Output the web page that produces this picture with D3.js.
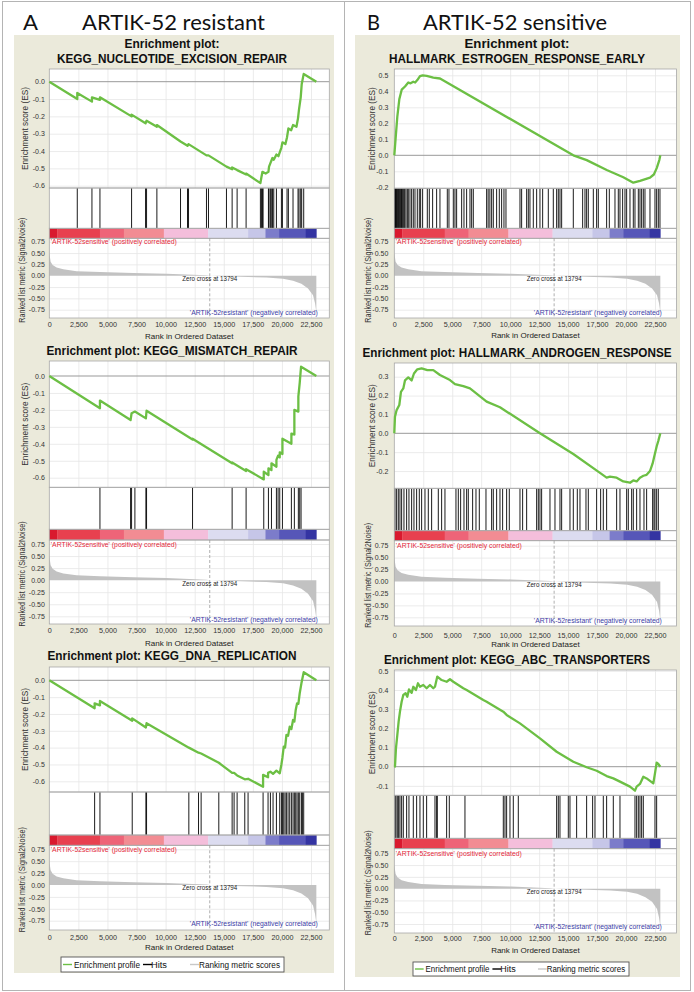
<!DOCTYPE html>
<html>
<head>
<meta charset="utf-8">
<script src="https://cdn.jsdelivr.net/npm/d3@7"></script>
<style>
  body { margin: 0; background: #fff; }
  svg text { font-family: "Liberation Sans", Arial, sans-serif; }
</style>
</head>
<body>
<div id="chart"></div>
<script>
// ---- shared axis data ----
const rankTicks = [0, 2500, 5000, 7500, 10000, 12500, 15000, 17500, 20000, 22500];
const rankTickLabels = ["0", "2,500", "5,000", "7,500", "10,000", "12,500", "15,000", "17,500", "20,000", "22,500"];
const zeroCross = 13794;
const lastRank = 22960;
const metricTicks = [0.75, 0.5, 0.25, 0, -0.25, -0.5, -0.75];
const esTicksResistant = [0, -0.1, -0.2, -0.3, -0.4, -0.5, -0.6];
const esTicksEstrogen = [0.5, 0.4, 0.3, 0.2, 0.1, 0, -0.1, -0.2];
const esTicksAndrogen = [0.3, 0.2, 0.1, 0, -0.1, -0.2];
const esTicksAbc = [0.5, 0.4, 0.3, 0.2, 0.1, 0, -0.1];

// ranked list metric (Signal2Noise), same list in every plot
const metricRanks  = [0, 115, 286, 630, 1202, 2348, 4352, 7215, 10078, 13513, 13794, 15798, 18666, 20098, 20957, 21673, 22245, 22675, 22847, 22933, 22960];
const metricValues = [0.5, 0.31, 0.235, 0.18, 0.14, 0.10, 0.08, 0.06, 0.044, 0.01, 0, -0.02, -0.04, -0.066, -0.11, -0.18, -0.28, -0.43, -0.61, -0.76, -0.8];

// colour bar blocks under the hits
const barBreaks = [0, 687, 4352, 6413, 9849, 13657, 17092, 18581, 19755, 22045, 22960];
const barColors = ["#d9192e", "#e8404f", "#ee6478", "#f28c93", "#f4bedb", "#dcdcf0", "#c6c6e8", "#7c7cca", "#5656b8", "#3434a2"];

// ---- running enrichment scores [rank, ES] and hit ranks ----
const nerProfile = [[0,0],[2405,-0.10],[2405,-0.065],[3667,-0.115],[3667,-0.09],[4354,-0.105],[4354,-0.09],[7074,-0.20],[7074,-0.19],
  [8276,-0.24],[8362,-0.225],[9250,-0.26],[9250,-0.25],[11282,-0.345],[11883,-0.37],[11970,-0.36],[13514,-0.425],[13685,-0.425],
  [15232,-0.49],[15719,-0.505],[15719,-0.495],[16148,-0.51],[16920,-0.535],[16920,-0.53],[18150,-0.585],[18240,-0.55],[18325,-0.52],
  [18600,-0.53],[18840,-0.52],[18893,-0.49],[19010,-0.47],[19184,-0.44],[19300,-0.45],[19527,-0.42],[19700,-0.43],[19956,-0.38],
  [20043,-0.35],[20300,-0.36],[20440,-0.32],[20556,-0.27],[20800,-0.28],[20955,-0.25],[21250,-0.26],[21385,-0.21],[21470,-0.16],
  [21616,-0.09],[21700,-0.015],[21873,0.045],[22960,0]];
const nerHits = [2405,3667,4354,7074,8276,8362,9250,11282,11883,11970,13514,13685,15232,15719,16148,16920,18150,18240,18325,18380,
  18840,18893,19010,19125,19184,19298,19527,19956,20043,20440,20556,20955,21385,21470,21616,21700,21873];

const mmrProfile = [[0,0],[4354,-0.19],[4354,-0.145],[6989,-0.26],[7074,-0.22],[7360,-0.21],[8305,-0.25],[8362,-0.205],[12315,-0.375],
  [12315,-0.37],[15719,-0.515],[15719,-0.51],[16920,-0.56],[16920,-0.55],[18438,-0.61],[18438,-0.565],[18840,-0.585],[18840,-0.545],
  [19100,-0.555],[19100,-0.515],[19527,-0.535],[19527,-0.495],[19670,-0.47],[19813,-0.48],[19813,-0.45],[20043,-0.46],[20043,-0.37],
  [20814,-0.40],[20814,-0.34],[21070,-0.345],[21070,-0.20],[21413,-0.21],[21413,-0.12],[21530,-0.04],[21645,0.055],[22960,0]];
const mmrHits = [4354,6989,7074,7360,8305,8362,12315,15719,16920,18438,18840,19100,19527,19670,19813,20043,20814,21070,21413,21530,21645];

const dnaProfile = [[0,0],[3897,-0.166],[3897,-0.137],[4354,-0.149],[4354,-0.123],[7130,-0.24],[7130,-0.226],[8305,-0.28],[8362,-0.255],
  [11997,-0.40],[12830,-0.43],[13054,-0.435],[14574,-0.49],[15719,-0.55],[15888,-0.55],[16148,-0.565],[16806,-0.588],[17090,-0.585],
  [18380,-0.632],[18380,-0.562],[18808,-0.576],[18808,-0.55],[19010,-0.543],[19237,-0.556],[19527,-0.537],[19813,-0.553],[19956,-0.50],
  [20043,-0.46],[20156,-0.394],[20270,-0.40],[20385,-0.325],[20527,-0.33],[20670,-0.275],[20814,-0.29],[20955,-0.236],[21070,-0.245],
  [21186,-0.176],[21299,-0.137],[21413,-0.14],[21530,-0.077],[21676,-0.018],[21873,0.048],[22960,0]];
const dnaHits = [3897,4354,7130,8305,8362,11997,12830,13054,14574,15719,15888,16148,16806,17090,18380,18808,19010,19237,19527,19813,
  19956,20043,20156,20270,20385,20527,20670,20814,20955,21070,21186,21299,21413,21530,21676,21762,21873];

const estrogenProfile = [[0,0],[147,0.137],[259,0.24],[432,0.35],[639,0.41],[924,0.43],[1208,0.455],[1400,0.45],[1640,0.46],[1800,0.455],
  [1985,0.47],[2218,0.495],[2451,0.50],[2796,0.497],[3366,0.485],[3944,0.48],[15450,0.0],[16606,-0.03],[18332,-0.092],[19765,-0.137],
  [20628,-0.171],[21207,-0.16],[22070,-0.14],[22400,-0.12],[22648,-0.08],[22873,-0.03],[22960,0.0]];
const estrogenHits = [20,60,110,150,200,260,320,380,430,500,560,620,690,760,830,900,1007,1122,1208,1352,1496,1640,1784,1985,2158,2273,
  2445,2848,3021,3309,3654,3941,4574,4718,5092,5236,5380,5812,6013,6243,6531,6675,6818,7969,8100,8250,8400,8545,8832,9063,9264,9465,
  9638,10846,10990,11422,11566,11709,11997,12285,12572,12803,13292,13723,14011,14155,14299,14443,15449,16255,16456,16600,16744,17176,
  17463,17607,18326,18557,19046,19333,19477,19707,19909,20053,20340,20628,20772,21060,21203,21347,21491,21635,22067,22498,22642,22786,22930];

const androgenProfile = [[0,0],[58,0.088],[201,0.123],[432,0.15],[575,0.22],[777,0.238],[921,0.28],[1208,0.296],[1496,0.28],[1697,0.317],
  [1985,0.339],[2359,0.344],[2848,0.335],[3366,0.335],[3941,0.309],[4805,0.282],[5236,0.261],[5955,0.25],[6531,0.238],[7969,0.168],
  [9120,0.138],[12572,0.0],[15449,-0.11],[17751,-0.21],[18326,-0.235],[18614,-0.23],[19190,-0.235],[19765,-0.255],[20340,-0.262],
  [20628,-0.25],[20916,-0.255],[21203,-0.235],[21500,-0.225],[21778,-0.22],[22067,-0.2],[22296,-0.16],[22411,-0.13],[22642,-0.07],
  [22786,-0.04],[22960,0]];
const androgenHits = [58,201,345,489,633,834,1064,1266,1496,1697,1928,2158,2359,2647,2935,3222,3798,4085,4373,5322,5524,5725,6013,6243,
  6387,6761,7049,7336,7912,8401,8545,8832,9120,9350,9695,9926,10846,11076,11422,12285,12429,12572,12716,13436,13867,14299,14443,15162,
  15449,15794,16025,16543,16744,17463,17808,18039,18326,19190,19477,20053,20196,20484,20628,20916,21203,21548,21778,22296,22411,22498,
  22642,22786];

const abcProfile = [[0,0],[58,0.0],[144,0.096],[259,0.165],[374,0.235],[489,0.287],[633,0.339],[777,0.374],[978,0.383],[1122,0.365],
  [1266,0.403],[1496,0.385],[1640,0.417],[1870,0.40],[2043,0.435],[2215,0.417],[2503,0.426],[2791,0.409],[3078,0.426],[3366,0.409],
  [3510,0.417],[3711,0.47],[4085,0.452],[4517,0.443],[4805,0.456],[5092,0.443],[5955,0.409],[6243,0.40],[7682,0.348],[7969,0.339],
  [9408,0.287],[9695,0.27],[10846,0.226],[12572,0.148],[14011,0.078],[15449,0.026],[16600,-0.003],[17463,-0.021],[18326,-0.049],
  [18902,-0.061],[19477,-0.078],[20340,-0.104],[20772,-0.125],[20916,-0.104],[21203,-0.09],[21491,-0.052],[21779,-0.061],[22354,-0.087],
  [22498,-0.035],[22642,0.021],[22786,0.014],[22960,0]];
const abcHits = [58,144,259,374,489,633,777,1064,1266,1640,1928,2215,2503,2791,3510,3654,3711,4517,4747,6099,9408,9552,9695,9983,10271,
  10702,14011,14155,14299,15018,15162,15737,16600,17118,17319,18039,18326,18902,19477,20772,20916,21060,21203,21347,21491,22498,22642];

// ---- layout ----
const leftCol = {cx: 172, x0: 49.3, x22500: 311, right: 329.3, labelX: 25, metricLabelX: 22, tickPad: 4.5};
const rightCol = {cx: 517, x0: 394.3, x22500: 655, right: 676.5, labelX: 372, metricLabelX: 368, tickPad: 6};

const panels = [
  Object.assign({}, leftCol, {title: ["Enrichment plot:", "KEGG_NUCLEOTIDE_EXCISION_REPAIR"], titleY: [47.7, 63], titleW: [95, 230],
    profile: nerProfile, hits: nerHits, esTicks: esTicksResistant,
    esTop: 69, esBottom: 188, hitsBottom: 228.3, barBottom: 238.3, metricBottom: 318,
    esRef: [[0, 81.7], [-0.6, 185.7]], m75: 241.7, mN75: 309.7, tickY: 324.3, axisTitleY: 336}),
  Object.assign({}, leftCol, {title: ["Enrichment plot: KEGG_MISMATCH_REPAIR"], titleY: [354.7], titleW: [251],
    profile: mmrProfile, hits: mmrHits, esTicks: esTicksResistant,
    esTop: 361, esBottom: 487.3, hitsBottom: 529.3, barBottom: 540, metricBottom: 624,
    esRef: [[0, 376], [-0.6, 477.7]], m75: 544, mN75: 616.3, tickY: 630, axisTitleY: 643}),
  Object.assign({}, leftCol, {title: ["Enrichment plot: KEGG_DNA_REPLICATION"], titleY: [660.3], titleW: [249],
    profile: dnaProfile, hits: dnaHits, esTicks: esTicksResistant,
    esTop: 667, esBottom: 792, hitsBottom: 835, barBottom: 845.3, metricBottom: 930,
    esRef: [[0, 680.3], [-0.6, 781.3]], m75: 849.3, mN75: 920.7, tickY: 937.3, axisTitleY: 947.3,
    legend: {x: 61, y: 957, w: 223, h: 15}}),
  Object.assign({}, rightCol, {title: ["Enrichment plot:", "HALLMARK_ESTROGEN_RESPONSE_EARLY"], titleY: [48.3, 63.3], titleW: [105, 256],
    profile: estrogenProfile, hits: estrogenHits, esTicks: esTicksEstrogen,
    esTop: 69, esBottom: 188.3, hitsBottom: 228.3, barBottom: 238.3, metricBottom: 318,
    esRef: [[0.5, 75.3], [0, 155.3]], m75: 241.7, mN75: 309.7, tickY: 324.3, axisTitleY: 335.5}),
  Object.assign({}, rightCol, {title: ["Enrichment plot: HALLMARK_ANDROGEN_RESPONSE"], titleY: [357], titleW: [309],
    profile: androgenProfile, hits: androgenHits, esTicks: esTicksAndrogen,
    esTop: 363, esBottom: 488.3, hitsBottom: 530.7, barBottom: 540.7, metricBottom: 626,
    esRef: [[0.3, 376.7], [0, 433.3]], m75: 545.7, mN75: 617.3, tickY: 635, axisTitleY: 644.5}),
  Object.assign({}, rightCol, {title: ["Enrichment plot: KEGG_ABC_TRANSPORTERS"], titleY: [664], titleW: [266],
    profile: abcProfile, hits: abcHits, esTicks: esTicksAbc,
    esTop: 670, esBottom: 795.3, hitsBottom: 838.3, barBottom: 848.7, metricBottom: 933,
    esRef: [[0.4, 690], [0, 766.7]], m75: 853.3, mN75: 924, tickY: 938.3, axisTitleY: 950.7,
    legend: {x: 413, y: 962, w: 216, h: 14}})
];

const beige = "#ebeadb";
const gridColor = "#e6e6e6";
const esGreen = "#6cbf44";

const svg = d3.select("#chart").append("svg")
    .attr("width", 694)
    .attr("height", 992);

// column frames and beige backgrounds
svg.append("rect").attr("x", 2.5).attr("y", 1.5).attr("width", 342).attr("height", 989)
    .attr("fill", "none").attr("stroke", "#b4b4b4");
svg.append("rect").attr("x", 344.5).attr("y", 1.5).attr("width", 346).attr("height", 989)
    .attr("fill", "none").attr("stroke", "#b4b4b4");
svg.append("rect").attr("x", 14).attr("y", 35).attr("width", 320).attr("height", 938).attr("fill", beige);
svg.append("rect").attr("x", 355).attr("y", 35).attr("width", 325).attr("height", 942).attr("fill", beige);

// column headers
const headers = [
  {t: "A", x: 23, w: 15}, {t: "ARTIK-52 resistant", x: 82, w: 183},
  {t: "B", x: 367, w: 13}, {t: "ARTIK-52 sensitive", x: 423, w: 184}
];
svg.selectAll("text.header").data(headers).join("text")
    .attr("class", "header")
    .attr("x", d => d.x)
    .attr("y", 29.5)
    .attr("textLength", d => d.w)
    .attr("lengthAdjust", "spacingAndGlyphs")
    .style("font-family", "Lato, 'Open Sans', sans-serif")
    .attr("font-size", 21)
    .attr("fill", "#111")
    .text(d => d.t);

panels.forEach(drawPanel);

function drawPanel(p) {
  const g = svg.append("g");
  const x = d3.scaleLinear().domain([0, 22500]).range([p.x0, p.x22500]);
  const y = d3.scaleLinear().domain([p.esRef[0][0], p.esRef[1][0]]).range([p.esRef[0][1], p.esRef[1][1]]);
  const ym = d3.scaleLinear().domain([0.75, -0.75]).range([p.m75, p.mN75]);
  const left = p.x0, w = p.right - p.x0;

  // title
  p.title.forEach((t, i) => {
    g.append("text")
        .attr("x", p.cx).attr("y", p.titleY[i])
        .attr("text-anchor", "middle")
        .attr("font-weight", "bold")
        .attr("font-size", 12)
        .attr("textLength", p.titleW[i])
        .attr("lengthAdjust", "spacingAndGlyphs")
        .attr("fill", "#111")
        .text(t);
  });

  // white plotting area
  g.append("rect").attr("x", left).attr("y", p.esTop)
      .attr("width", w).attr("height", p.metricBottom - p.esTop).attr("fill", "#fff");

  // grid lines through axes
  const gridX = g => g.call(s => s.select(".domain").remove())
      .call(s => s.selectAll("line").attr("stroke", gridColor).attr("stroke-width", 0.8));
  g.append("g").attr("transform", "translate(0," + p.esBottom + ")")
      .call(d3.axisBottom(x).tickValues(rankTicks.slice(1)).tickSize(-(p.esBottom - p.esTop)).tickFormat(""))
      .call(gridX);
  g.append("g").attr("transform", "translate(0," + p.metricBottom + ")")
      .call(d3.axisBottom(x).tickValues(rankTicks.slice(1)).tickSize(-(p.metricBottom - p.barBottom)).tickFormat(""))
      .call(gridX);
  g.append("g").attr("transform", "translate(" + left + ",0)")
      .call(d3.axisLeft(y).tickValues(p.esTicks.filter(v => v !== 0)).tickSize(-w).tickFormat(""))
      .call(gridX);
  g.append("g").attr("transform", "translate(" + left + ",0)")
      .call(d3.axisLeft(ym).tickValues(metricTicks.filter(v => v !== 0)).tickSize(-w).tickFormat(""))
      .call(gridX);

  // ranked list metric
  const metric = metricRanks.map((r, i) => [r, metricValues[i]]);
  g.append("path")
      .datum(metric)
      .attr("fill", "#c2c2c2")
      .attr("d", d3.area().x(d => x(d[0])).y0(ym(0)).y1(d => ym(d[1])));

  // zero line in ES plot
  g.append("line").attr("x1", left).attr("x2", p.right)
      .attr("y1", y(0)).attr("y2", y(0)).attr("stroke", "#999").attr("stroke-width", 1);

  // hits
  g.append("g").selectAll("line").data(p.hits).join("line")
      .attr("x1", d => x(d)).attr("x2", d => x(d))
      .attr("y1", p.esBottom).attr("y2", p.hitsBottom)
      .attr("stroke", "#000").attr("stroke-width", 0.9);

  // colour bar
  g.append("g").selectAll("rect").data(barColors).join("rect")
      .attr("x", (d, i) => x(barBreaks[i]))
      .attr("width", (d, i) => x(barBreaks[i + 1]) - x(barBreaks[i]) + 0.3)
      .attr("y", p.hitsBottom).attr("height", p.barBottom - p.hitsBottom)
      .attr("fill", d => d);

  // frames
  [[p.esTop, p.esBottom], [p.esBottom, p.hitsBottom], [p.hitsBottom, p.barBottom], [p.barBottom, p.metricBottom]]
    .forEach(r => {
      g.append("rect").attr("x", left).attr("y", r[0]).attr("width", w).attr("height", r[1] - r[0])
          .attr("fill", "none").attr("stroke", "#a8a8a8").attr("stroke-width", 0.8);
    });

  // zero cross marker
  g.append("line").attr("x1", x(zeroCross)).attr("x2", x(zeroCross))
      .attr("y1", p.barBottom).attr("y2", p.metricBottom)
      .attr("stroke", "#9a9a9a").attr("stroke-dasharray", "3,2").attr("stroke-width", 0.8);
  g.append("text").attr("x", x(zeroCross)).attr("y", ym(-0.06))
      .attr("text-anchor", "middle").attr("dominant-baseline", "central")
      .attr("font-size", 6.5).attr("textLength", 55).attr("lengthAdjust", "spacingAndGlyphs")
      .attr("fill", "#222").text("Zero cross at 13794");
  g.append("text").attr("x", left + 1.5).attr("y", p.m75)
      .attr("dominant-baseline", "central")
      .attr("font-size", 7).attr("textLength", 126).attr("lengthAdjust", "spacingAndGlyphs")
      .attr("fill", "#e4283a").text("'ARTIK-52sensitive' (positively correlated)");
  g.append("text").attr("x", x(lastRank) + 1.5).attr("y", ym(-0.81))
      .attr("text-anchor", "end").attr("dominant-baseline", "central")
      .attr("font-size", 7).attr("textLength", 128).attr("lengthAdjust", "spacingAndGlyphs")
      .attr("fill", "#3c3ca6").text("'ARTIK-52resistant' (negatively correlated)");

  // enrichment profile
  g.append("path")
      .datum(p.profile)
      .attr("fill", "none")
      .attr("stroke", esGreen)
      .attr("stroke-width", 2.3)
      .attr("stroke-linejoin", "round")
      .attr("d", d3.line().x(d => x(d[0])).y(d => y(d[1])));

  // tick labels
  const styleTicks = s => s.call(a => a.select(".domain").remove())
      .attr("font-family", null).attr("font-size", null)
      .call(a => a.selectAll("text").attr("font-size", 7).attr("fill", "#333"));
  g.append("g").attr("transform", "translate(" + left + ",0)")
      .call(d3.axisLeft(y).tickValues(p.esTicks).tickSize(0).tickPadding(p.tickPad).tickFormat(d => d.toFixed(1)))
      .call(styleTicks);
  g.append("g").attr("transform", "translate(" + left + ",0)")
      .call(d3.axisLeft(ym).tickValues(metricTicks).tickSize(0).tickPadding(p.tickPad).tickFormat(d => d.toFixed(2)))
      .call(styleTicks);
  g.append("g").attr("transform", "translate(0," + p.tickY + ")")
      .call(d3.axisBottom(x).tickValues(rankTicks).tickSize(0).tickPadding(0).tickFormat((d, i) => rankTickLabels[i]))
      .call(styleTicks)
      .call(a => a.selectAll("text").attr("dy", "0.35em").attr("font-size", 7.2));

  // axis titles
  g.append("text").attr("x", (left + p.right) / 2).attr("y", p.axisTitleY)
      .attr("text-anchor", "middle").attr("dominant-baseline", "central")
      .attr("font-size", 8).attr("fill", "#222").text("Rank in Ordered Dataset");
  g.append("text")
      .attr("transform", "translate(" + p.labelX + "," + (p.esTop + p.esBottom) / 2 + ") rotate(-90)")
      .attr("text-anchor", "middle").attr("dominant-baseline", "central")
      .attr("font-size", 8.3).attr("textLength", 83).attr("lengthAdjust", "spacingAndGlyphs")
      .attr("fill", "#333").text("Enrichment score (ES)");
  g.append("text")
      .attr("transform", "translate(" + p.metricLabelX + "," + ((p.barBottom + p.metricBottom) / 2 - 8) + ") rotate(-90)")
      .attr("text-anchor", "middle").attr("dominant-baseline", "central")
      .attr("font-size", 8.3).attr("textLength", 105).attr("lengthAdjust", "spacingAndGlyphs")
      .attr("fill", "#333").text("Ranked list metric (Signal2Noise)");

  if (p.legend) drawLegend(p.legend);
}

function drawLegend(L) {
  const k = L.w / 223;
  const g = svg.append("g").attr("transform", "translate(" + L.x + "," + L.y + ")");
  g.append("rect").attr("width", L.w).attr("height", L.h)
      .attr("fill", "#fff").attr("stroke", "#555").attr("stroke-width", 0.9);
  const items = [
    {label: "Enrichment profile", color: esGreen, lx: 2, tx: 13, tw: 66},
    {label: "Hits", color: "#000", lx: 82, tx: 90, tw: 16},
    {label: "Ranking metric scores", color: "#c8c8c8", lx: 129, tx: 138, tw: 81}
  ];
  items.forEach(it => {
    g.append("line").attr("x1", it.lx * k).attr("x2", (it.lx + 9) * k)
        .attr("y1", L.h / 2).attr("y2", L.h / 2)
        .attr("stroke", it.color).attr("stroke-width", 1.4);
    g.append("text").attr("x", it.tx * k).attr("y", L.h / 2)
        .attr("dominant-baseline", "central")
        .attr("font-size", 8.5).attr("textLength", it.tw * k).attr("lengthAdjust", "spacingAndGlyphs")
        .attr("fill", "#111").text(it.label);
  });
}
</script>
</body>
</html>
